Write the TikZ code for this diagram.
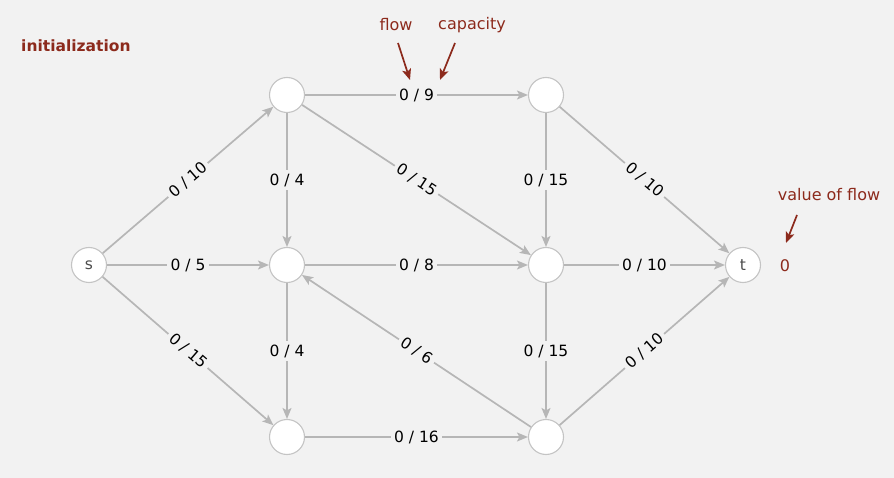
\documentclass[tikz,border=0pt]{standalone}
\usepackage{fontspec}
\setmainfont{DejaVu Sans}
\usetikzlibrary{arrows.meta}
\definecolor{bg}{HTML}{F2F2F2}
\definecolor{edgegray}{HTML}{B6B6B6}
\definecolor{nodegray}{HTML}{C4C4C4}
\definecolor{annot}{HTML}{8C2A1C}
\begin{document}
\begin{tikzpicture}[x=1pt,y=-1pt,
  vertex/.style={circle,draw=nodegray,line width=1.1pt,fill=white,minimum size=35pt,inner sep=0pt,
    font=\fontsize{15.5}{15.5}\selectfont,text=black!70},
  flowedge/.style={draw=edgegray,line width=1.7pt,-{Stealth[length=11pt,width=9pt,inset=2.5pt]}},
  elabel/.style={fill=bg,inner sep=3.5pt,font=\fontsize{15.5}{15.5}\selectfont,text=black},
  note/.style={text=annot,font=\fontsize{16}{16}\selectfont},
  notearrow/.style={draw=annot,line width=1.7pt,-{Stealth[length=11pt,width=9pt,inset=2.5pt]}}]
  \fill[bg] (0,0) rectangle (894,478);
  \useasboundingbox (0,0) rectangle (894,478);

  % vertices
  \node[vertex] (s) at (89,265) {s};
  \node[vertex] (a) at (287,95) {};
  \node[vertex] (b) at (287,265) {};
  \node[vertex] (c) at (287,437) {};
  \node[vertex] (d) at (546,95) {};
  \node[vertex] (e) at (546,265) {};
  \node[vertex] (f) at (546,437) {};
  \node[vertex] (t) at (743,265) {t};

  % edges with flow / capacity
  \draw[flowedge] (s) -- node[elabel,sloped] {0 / 10} (a);
  \draw[flowedge] (s) -- node[elabel] {0 / 5} (b);
  \draw[flowedge] (s) -- node[elabel,sloped] {0 / 15} (c);
  \draw[flowedge] (a) -- node[elabel] (cap9) {0 / 9} (d);
  \draw[flowedge] (a) -- node[elabel] {0 / 4} (b);
  \draw[flowedge] (a) -- node[elabel,sloped] {0 / 15} (e);
  \draw[flowedge] (b) -- node[elabel] {0 / 8} (e);
  \draw[flowedge] (b) -- node[elabel] {0 / 4} (c);
  \draw[flowedge] (c) -- node[elabel] {0 / 16} (f);
  \draw[flowedge] (f) -- node[elabel,sloped] {0 / 6} (b);
  \draw[flowedge] (d) -- node[elabel] {0 / 15} (e);
  \draw[flowedge] (d) -- node[elabel,sloped] {0 / 10} (t);
  \draw[flowedge] (e) -- node[elabel] {0 / 15} (f);
  \draw[flowedge] (e) -- node[elabel] {0 / 10} (t);
  \draw[flowedge] (f) -- node[elabel,sloped] {0 / 10} (t);

  % annotations
  \node[note,font=\fontsize{15.5}{16}\selectfont\bfseries,anchor=west,inner sep=0pt] (title) at (21,46) {initialization};
  \node[note] (flowlbl) at (396,25) {flow};
  \node[note] (caplbl) at (472,25) {capacity};
  \node[note] (vallbl) at (829,195) {value of flow};
  \node[note] (val) at (785,266) {0};
  \coordinate (flowtip) at (410,80);
  \coordinate (captip) at (440,80);
  \coordinate (valtip) at (786,243);
  \draw[notearrow] (398,43) -- (flowtip);
  \draw[notearrow] (455,43) -- (captip);
  \draw[notearrow] (797,215) -- (valtip);
\end{tikzpicture}
\end{document}
